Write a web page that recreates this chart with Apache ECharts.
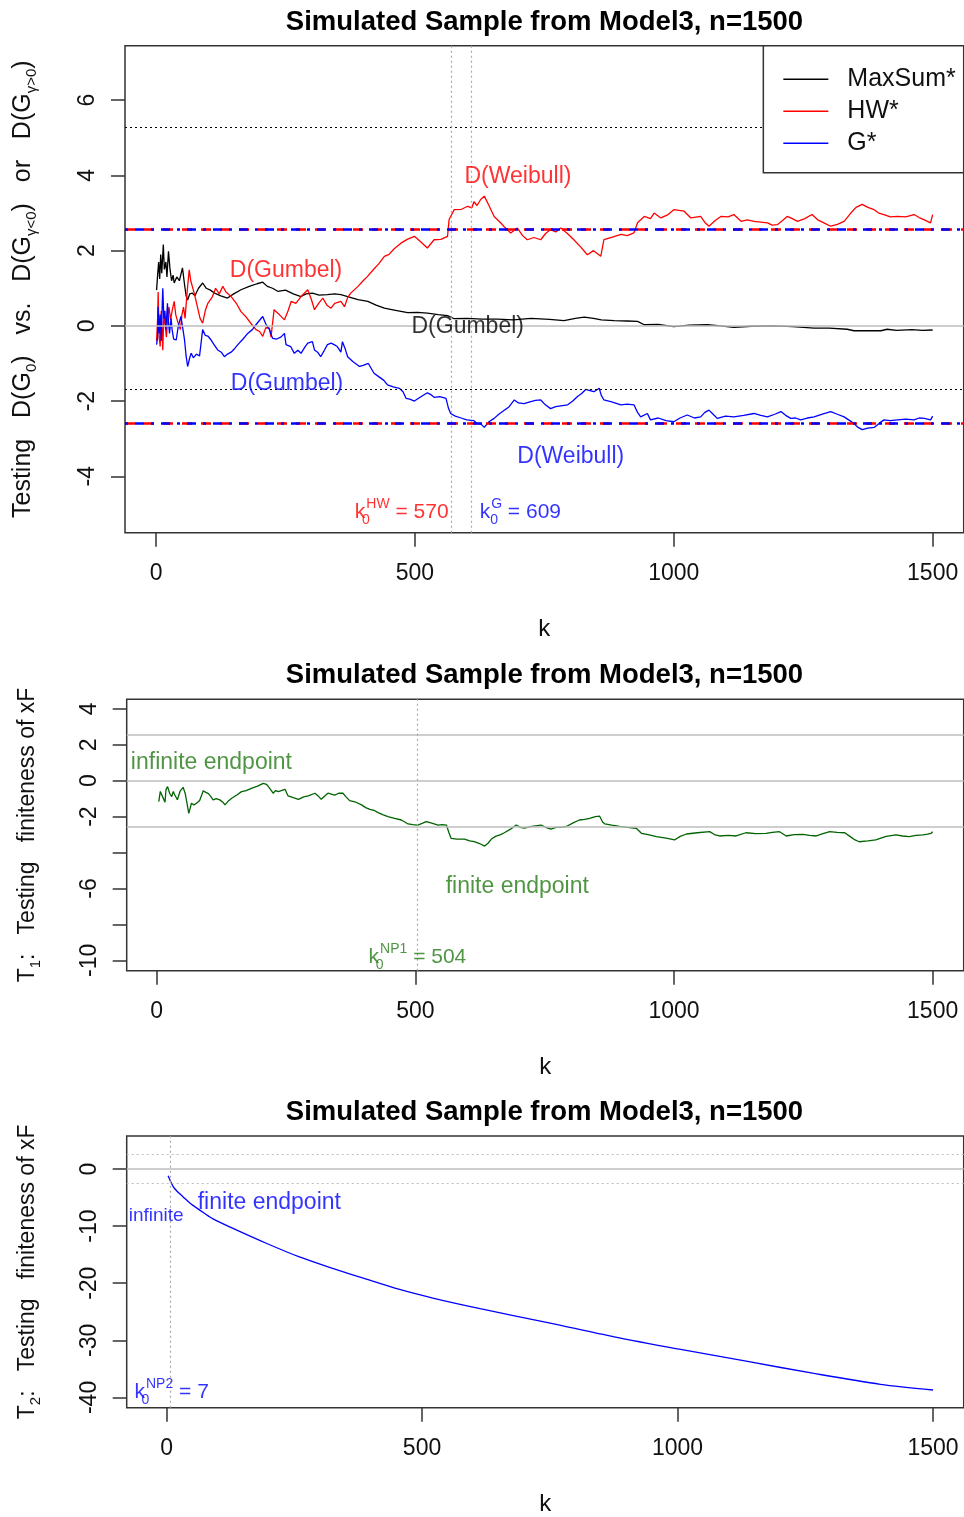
<!DOCTYPE html>
<html><head><meta charset="utf-8">
<script src="https://cdn.jsdelivr.net/npm/echarts@6/dist/echarts.min.js"></script>
<style>html,body{margin:0;padding:0;background:#fff}#c{width:964px;height:1517px}</style>
</head><body><div id="c"></div>
<script>
const FONT = '"Liberation Sans", Arial, Helvetica, sans-serif';
const TITLE = 'Simulated Sample from Model3, n=1500';
const xTicks = [0, 500, 1000, 1500];
const p1YTicks = [-4, -2, 0, 2, 4, 6];
const p2YTicks = [-10, -8, -6, -4, -2, 0, 2, 4];
const p2YLabels = [-10, -6, -2, 0, 2, 4];
const p3YTicks = [-40, -30, -20, -10, 0];
const legendNames = ['MaxSum*', 'HW*', 'G*'];

// reference levels
const zCrit = 2.576;
const maxSumUpper = 5.27, maxSumLower = -1.68;
const k0HW = 570, k0G = 609, k0NP1 = 504, k0NP2 = 7;

// [k, value]
const maxSumPts = [[1,0.95],[3,1.35],[5,1.7],[7,1.25],[9,1.9],[11,1.4],[14,2.16],[16,1.5],[19,1.7],[21,1.3],[24,1.98],[27,1.5],[30,1.2],[33,1.35],[35,1.14],[40,1.3],[45,1.2],[51,1.54],[55,1.1],[58,0.8],[61,0.69],[65,0.85],[70,0.87],[75,0.8],[82,1.0],[90,1.14],[97,1.0],[105,0.95],[113,0.87],[125,0.8],[138,0.74],[150,0.85],[164,0.96],[180,1.05],[195,1.12],[206,1.16],[215,1.05],[225,1.0],[235,0.92],[250,0.95],[265,0.85],[280,0.78],[290,0.85],[302,0.87],[315,0.82],[331,0.83],[345,0.85],[357,0.83],[370,0.78],[390,0.7],[409,0.65],[425,0.55],[441,0.47],[460,0.42],[486,0.35],[505,0.36],[524,0.34],[545,0.3],[563,0.27],[576,0.19],[600,0.2],[630,0.18],[660,0.18],[690,0.16],[724,0.2],[760,0.17],[788,0.14],[810,0.2],[827,0.23],[845,0.2],[860,0.16],[885,0.14],[910,0.13],[930,0.12],[943,0.03],[970,0.04],[1000,-0.02],[1030,0.02],[1065,0.03],[1090,0.0],[1116,-0.04],[1150,-0.01],[1194,0.0],[1230,-0.02],[1271,-0.06],[1300,-0.06],[1335,-0.09],[1348,-0.13],[1370,-0.13],[1400,-0.13],[1412,-0.09],[1430,-0.12],[1460,-0.1],[1480,-0.12],[1500,-0.11]];

const hwPts = [[1,-0.4],[3,0.2],[4,0.9],[6,-0.3],[8,-0.55],[10,0.4],[12,-0.2],[13,-0.65],[15,0.3],[17,0.1],[20,-0.3],[23,0.3],[25,0.5],[28,0.15],[31,0.4],[35,0.65],[38,0.3],[42,0.1],[47,-0.1],[50,0.3],[53,0.5],[56,0.2],[60,0.9],[64,1.49],[67,1.2],[70,1.05],[75,0.8],[80,0.5],[85,0.2],[90,0.07],[95,0.4],[100,0.6],[109,0.78],[115,1.0],[122,0.85],[129,1.05],[135,0.9],[145,0.78],[155,0.6],[164,0.38],[173,0.25],[183,0.07],[193,-0.1],[200,-0.15],[206,-0.28],[212,-0.05],[219,-0.06],[222,-0.3],[228,0.43],[238,0.3],[248,0.16],[255,0.4],[261,0.65],[270,0.6],[280,0.78],[293,0.96],[300,0.7],[306,0.43],[314,0.6],[322,0.74],[330,0.55],[338,0.47],[345,0.6],[357,0.65],[364,0.51],[370,0.75],[376,0.87],[390,1.05],[400,1.2],[408,1.31],[420,1.5],[430,1.65],[441,1.85],[450,1.9],[460,2.05],[473,2.2],[485,2.3],[499,2.38],[510,2.25],[524,2.07],[537,2.29],[550,2.3],[563,2.38],[566,2.83],[576,3.09],[590,3.1],[602,3.18],[610,3.14],[614,3.3],[620,3.2],[627,3.36],[634,3.45],[643,3.2],[653,2.91],[665,2.75],[675,2.6],[685,2.47],[698,2.6],[708,2.4],[717,2.29],[730,2.35],[743,2.29],[752,2.45],[762,2.56],[772,2.5],[782,2.6],[795,2.45],[807,2.29],[820,2.1],[833,1.89],[845,2.0],[859,1.85],[865,2.29],[880,2.35],[898,2.43],[910,2.4],[923,2.47],[930,2.74],[943,2.91],[955,2.85],[962,3.0],[975,2.87],[988,2.95],[1000,3.09],[1020,3.05],[1033,2.87],[1052,2.91],[1060,2.75],[1068,2.65],[1080,2.8],[1091,2.91],[1105,2.9],[1116,2.96],[1130,2.78],[1142,2.82],[1155,2.78],[1168,2.76],[1181,2.74],[1190,2.68],[1200,2.69],[1210,2.8],[1219,2.91],[1229,2.85],[1239,2.78],[1253,2.85],[1267,2.96],[1278,2.82],[1290,2.74],[1303,2.65],[1316,2.7],[1329,2.78],[1342,3.0],[1352,3.15],[1364,3.23],[1375,3.15],[1387,3.09],[1396,3.0],[1406,2.96],[1418,2.9],[1432,2.91],[1448,2.9],[1464,2.96],[1474,2.88],[1484,2.82],[1496,2.74],[1500,2.96]];

const gPts = [[1,-0.5],[3,-0.3],[4,0.5],[6,-0.2],[8,0.3],[10,-0.4],[12,0.6],[13,1.0],[15,0.2],[17,0.4],[19,-0.1],[22,0.6],[24,0.1],[26,-0.2],[29,0.2],[31,-0.1],[34,-0.35],[39,-0.37],[43,0.0],[48,0.25],[52,-0.1],[55,-0.37],[58,-0.8],[61,-1.08],[65,-0.85],[68,-0.73],[72,-0.85],[78,-0.75],[84,-0.8],[90,-0.1],[95,-0.25],[100,-0.27],[106,-0.37],[112,-0.5],[119,-0.64],[126,-0.7],[132,-0.82],[138,-0.75],[145,-0.7],[152,-0.6],[158,-0.5],[168,-0.35],[177,-0.2],[186,-0.1],[193,0.03],[200,0.15],[206,0.25],[212,0.05],[219,-0.1],[225,-0.33],[233,-0.35],[241,-0.3],[248,-0.2],[251,-0.5],[260,-0.55],[267,-0.73],[274,-0.65],[280,-0.73],[288,-0.55],[293,-0.46],[302,-0.42],[306,-0.64],[312,-0.7],[318,-0.82],[325,-0.65],[331,-0.5],[338,-0.46],[344,-0.5],[350,-0.55],[357,-0.7],[360,-0.42],[365,-0.6],[370,-0.82],[380,-0.95],[393,-1.08],[400,-1.05],[410,-1.0],[421,-1.26],[430,-1.35],[440,-1.45],[447,-1.57],[458,-1.62],[470,-1.66],[477,-1.75],[483,-1.93],[490,-1.95],[499,-2.0],[510,-1.9],[524,-1.78],[530,-1.82],[537,-1.9],[548,-1.88],[560,-1.93],[565,-2.2],[569,-2.33],[578,-2.4],[589,-2.45],[600,-2.5],[614,-2.52],[621,-2.6],[628,-2.62],[634,-2.7],[643,-2.55],[653,-2.46],[662,-2.35],[672,-2.25],[682,-2.15],[692,-1.97],[700,-2.05],[711,-2.07],[722,-2.02],[733,-1.98],[743,-1.97],[752,-2.1],[762,-2.2],[772,-2.15],[785,-2.12],[795,-2.1],[805,-2.0],[814,-1.88],[822,-1.8],[830,-1.69],[838,-1.72],[846,-1.75],[856,-1.66],[860,-1.85],[865,-1.97],[880,-2.02],[898,-2.1],[910,-2.08],[923,-2.1],[930,-2.3],[936,-2.42],[949,-2.33],[955,-2.5],[970,-2.45],[985,-2.52],[1000,-2.55],[1012,-2.45],[1026,-2.37],[1040,-2.45],[1052,-2.42],[1060,-2.3],[1068,-2.24],[1076,-2.35],[1084,-2.46],[1100,-2.4],[1116,-2.42],[1135,-2.38],[1155,-2.33],[1168,-2.38],[1181,-2.42],[1195,-2.35],[1207,-2.28],[1216,-2.38],[1226,-2.46],[1235,-2.45],[1245,-2.5],[1258,-2.45],[1271,-2.42],[1287,-2.35],[1303,-2.28],[1316,-2.35],[1329,-2.42],[1340,-2.52],[1348,-2.6],[1356,-2.7],[1364,-2.76],[1375,-2.72],[1387,-2.7],[1396,-2.6],[1406,-2.5],[1418,-2.52],[1432,-2.5],[1448,-2.48],[1464,-2.5],[1474,-2.45],[1484,-2.46],[1496,-2.5],[1500,-2.4]];

const t1Pts = [[4,-1.17],[7,-0.6],[10,-0.52],[13,-1.0],[16,-1.2],[18,-0.5],[21,-0.33],[25,-0.7],[29,-0.89],[32,-0.6],[35,-0.8],[40,-1.06],[45,-0.6],[51,-0.37],[55,-0.7],[58,-1.17],[62,-1.82],[65,-1.5],[67,-1.26],[72,-1.35],[77,-1.26],[83,-1.1],[87,-0.8],[90,-0.56],[95,-0.65],[100,-0.72],[105,-0.9],[109,-1.07],[115,-1.0],[122,-1.07],[128,-1.2],[132,-1.35],[138,-1.15],[145,-0.98],[155,-0.8],[164,-0.61],[173,-0.55],[183,-0.43],[195,-0.3],[206,-0.15],[212,-0.2],[216,-0.33],[225,-0.7],[230,-0.55],[235,-0.61],[248,-0.48],[254,-0.85],[264,-0.95],[274,-1.04],[284,-0.9],[293,-0.85],[306,-0.7],[312,-0.85],[318,-1.04],[325,-0.85],[331,-0.7],[344,-0.8],[352,-0.7],[360,-0.7],[366,-0.9],[373,-1.11],[385,-1.2],[396,-1.35],[404,-1.5],[412,-1.6],[420,-1.65],[428,-1.78],[438,-1.9],[447,-2.0],[460,-2.1],[473,-2.19],[486,-2.41],[495,-2.45],[505,-2.47],[513,-2.38],[521,-2.28],[530,-2.35],[544,-2.47],[552,-2.45],[560,-2.47],[565,-2.9],[569,-3.21],[580,-3.25],[595,-3.25],[605,-3.35],[614,-3.4],[624,-3.5],[634,-3.64],[640,-3.5],[647,-3.25],[655,-3.1],[665,-3.0],[672,-2.9],[684,-2.7],[695,-2.47],[703,-2.6],[711,-2.64],[725,-2.55],[743,-2.47],[752,-2.6],[762,-2.7],[772,-2.6],[782,-2.6],[792,-2.55],[805,-2.35],[817,-2.19],[827,-2.15],[837,-2.1],[848,-2.0],[856,-1.97],[862,-2.3],[866,-2.4],[880,-2.48],[895,-2.55],[910,-2.6],[927,-2.65],[937,-2.93],[950,-3.0],[966,-3.12],[985,-3.2],[1001,-3.3],[1012,-3.1],[1024,-2.97],[1045,-2.9],[1069,-2.84],[1078,-3.0],[1088,-3.08],[1105,-3.05],[1120,-3.08],[1139,-2.9],[1158,-2.95],[1178,-2.93],[1190,-2.88],[1204,-2.84],[1217,-3.08],[1232,-3.0],[1249,-2.99],[1262,-3.05],[1275,-3.08],[1288,-2.95],[1301,-2.84],[1315,-2.88],[1330,-2.9],[1340,-3.1],[1350,-3.3],[1358,-3.4],[1375,-3.35],[1390,-3.3],[1410,-3.1],[1429,-3.02],[1442,-3.08],[1455,-3.12],[1468,-3.05],[1481,-3.02],[1490,-2.98],[1497,-2.93],[1500,-2.84]];

const t2Pts = [[3,-1.2],[7,-2.0],[13,-3.1],[20,-3.85],[32,-4.85],[45,-5.9],[65,-7.2],[90,-8.7],[130,-10.4],[195,-13.0],[260,-15.4],[325,-17.4],[391,-19.3],[456,-21.1],[521,-22.6],[616,-24.5],[746,-26.9],[876,-29.4],[1006,-31.6],[1137,-33.7],[1267,-35.8],[1397,-37.7],[1500,-38.7]];

const RED = '#ff0000', BLUE = '#0000ff', GREEN = '#006400', GTEXT = '#237a14', GRAY = '#bebebe', VGRAY = '#a8a8a8';

const chart = echarts.init(document.getElementById('c'), null, {renderer: 'canvas'});

const gridBase = {show: true, borderColor: '#333', borderWidth: 1.5, backgroundColor: 'transparent', containLabel: false, outerBoundsMode: 'none'};
const grids = [
  Object.assign({left: 125, top: 45.7, width: 838.7, height: 487}, gridBase),
  Object.assign({left: 126.7, top: 699.3, width: 837, height: 271.4}, gridBase),
  Object.assign({left: 126.7, top: 1136, width: 837, height: 271.7}, gridBase)
];
const plain = (v) => String(v);

function xAx(gi, min, max) {
  return {
    type: 'value', gridIndex: gi, min: min, max: max,
    name: 'k', nameLocation: 'middle', nameGap: 85,
    nameTextStyle: {fontSize: 24, color: '#111', fontFamily: FONT},
    axisLine: {show: false, onZero: false}, splitLine: {show: false},
    axisTick: {show: true, inside: false, length: 14, customValues: xTicks, lineStyle: {color: '#333', width: 1.5}},
    axisLabel: {show: true, customValues: xTicks, formatter: plain, fontSize: 23, color: '#111', margin: 29, fontFamily: FONT}
  };
}
const subRich = {
  s: {fontSize: 15, verticalAlign: 'bottom', lineHeight: 15, fontFamily: FONT, color: '#111'}
};
function yAx(gi, min, max, ticks, labels, name, gap, nsize) {
  return {
    type: 'value', gridIndex: gi, min: min, max: max,
    name: name, nameLocation: 'middle', nameRotate: 90, nameGap: gap,
    nameTextStyle: {fontSize: nsize, color: '#111', fontFamily: FONT, lineHeight: 32, rich: subRich},
    axisLine: {show: false, onZero: false}, splitLine: {show: false},
    axisTick: {show: true, inside: false, length: 14, customValues: ticks, lineStyle: {color: '#333', width: 1.5}},
    axisLabel: {show: true, customValues: labels, formatter: plain, rotate: 90, fontSize: 23, color: '#111', margin: 26, fontFamily: FONT}
  };
}

const hLine = (y, color, type, width) => ({yAxis: y, lineStyle: {color: color, type: type, width: width}});
const vLine = (x, color, type, width) => ({xAxis: x, lineStyle: {color: color, type: type, width: width}});
function marks(items) {
  return {silent: true, symbol: ['none', 'none'], label: {show: false}, animation: false, data: items};
}
function lineSeries(name, xi, data, color, ml, extra) {
  return Object.assign({
    name: name, type: 'line', xAxisIndex: xi, yAxisIndex: xi, data: data,
    symbol: 'none', showSymbol: false, animation: false,
    lineStyle: {color: color, width: 1.3}, itemStyle: {color: color},
    markLine: ml
  }, extra || {});
}

const kRich = (c) => ({
  b: {fontSize: 21, lineHeight: 30, color: c, fontFamily: FONT},
  sub: {fontSize: 14, lineHeight: 14, verticalAlign: 'bottom', color: c, fontFamily: FONT, width: 1, align: 'left'},
  sup: {fontSize: 14, lineHeight: 14, verticalAlign: 'top', color: c, fontFamily: FONT}
});
function ann(k, y, text, color, align, size, rich) {
  return {value: [k, y], label: {formatter: text, color: color, align: align || 'center', verticalAlign: 'middle', fontSize: size || 23, fontFamily: FONT, rich: rich}};
}
function annSeries(xi, items) {
  return {type: 'scatter', xAxisIndex: xi, yAxisIndex: xi, symbolSize: 0, silent: true, animation: false,
    itemStyle: {color: 'transparent'}, z: 10,
    label: {show: true, position: 'inside'}, data: items};
}
const titleStyle = {fontSize: 27.5, fontWeight: 'bold', color: '#000', fontFamily: FONT};

const option = {
  animation: false,
  backgroundColor: '#fff',
  textStyle: {fontFamily: FONT},
  title: [
    {text: TITLE, left: 544.5, textAlign: 'center', top: 8, padding: 0, textStyle: titleStyle},
    {text: TITLE, left: 544.5, textAlign: 'center', top: 661, padding: 0, textStyle: titleStyle},
    {text: TITLE, left: 544.5, textAlign: 'center', top: 1098.5, padding: 0, textStyle: titleStyle}
  ],
  legend: {
    data: legendNames.map(n => ({name: n, icon: 'rect'})), orient: 'vertical', right: 0.3, top: 45.7,
    z: 30, zlevel: 0,
    backgroundColor: '#fff', borderColor: '#333', borderWidth: 1.5, borderRadius: 0,
    padding: [21, 8, 17, 20], itemGap: 7, itemWidth: 45, itemHeight: 1.5,
    textStyle: {fontSize: 25, color: '#111', fontFamily: FONT, padding: [0, 0, 0, 14], lineHeight: 24},
    selectedMode: false
  },
  grid: grids,
  xAxis: [xAx(0, -60, 1560), xAx(1, -58, 1560), xAx(2, -78, 1560)],
  yAxis: [
    yAx(0, -5.5, 7.45, p1YTicks, p1YTicks, 'Testing   D(G{s|0})   vs.   D(G{s|γ<0})   or   D(G{s|γ>0})', 86, 25),
    yAx(1, -10.58, 4.53, p2YTicks, p2YLabels, 'T{s|1}:   Testing   finiteness of xF', 83, 23),
    yAx(2, -41.8, 5.78, p3YTicks, p3YTicks, 'T{s|2}:   Testing   finiteness of xF', 83, 23)
  ],
  series: [
    lineSeries('MaxSum*', 0, maxSumPts, '#000', marks([
      hLine(0, GRAY, 'solid', 1.5),
      hLine(maxSumUpper, '#000', [2, 3], 1.2),
      hLine(maxSumLower, '#000', [2, 3], 1.2),
      vLine(k0HW, VGRAY, [2, 3], 1.2),
      vLine(k0G, VGRAY, [2, 3], 1.2)
    ])),
    lineSeries('HW*', 0, hwPts, RED, marks([
      hLine(zCrit, RED, [10, 9], 2.6),
      hLine(-zCrit, RED, [10, 9], 2.6)
    ])),
    lineSeries('G*', 0, gPts, BLUE, marks([
      hLine(zCrit, BLUE, [3, 7, 9, 7], 2.6),
      hLine(-zCrit, BLUE, [3, 7, 9, 7], 2.6)
    ])),
    annSeries(0, [
      ann(699, 3.97, 'D(Weibull)', RED),
      ann(251, 1.47, 'D(Gumbel)', RED),
      ann(602, -0.03, 'D(Gumbel)', '#000'),
      ann(253, -1.55, 'D(Gumbel)', BLUE),
      ann(801, -3.49, 'D(Weibull)', BLUE),
      ann(565, -4.96, '{b|k}{sub|0}{sup|HW}{b| = 570}', RED, 'right', 21, kRich(RED)),
      ann(625, -4.96, '{b|k}{sub|0}{sup|G}{b| = 609}', BLUE, 'left', 21, kRich(BLUE))
    ]),
    lineSeries('T1', 1, t1Pts, GREEN, marks([
      hLine(0, GRAY, 'solid', 1.5),
      hLine(zCrit, GRAY, 'solid', 1.5),
      hLine(-zCrit, GRAY, 'solid', 1.5),
      vLine(k0NP1, VGRAY, [2, 3], 1.2)
    ])),
    annSeries(1, [
      ann(-50, 0.99, 'infinite endpoint', GTEXT, 'left', 23),
      ann(697, -5.92, 'finite endpoint', GTEXT, 'center', 23),
      ann(504, -9.82, '{b|k}{sub|0}{sup|NP1}{b| = 504}', GTEXT, 'center', 21, kRich(GTEXT))
    ]),
    lineSeries('T2', 2, t2Pts, BLUE, marks([
      hLine(0, GRAY, 'solid', 1.5),
      hLine(zCrit, GRAY, [2, 3], 1.2),
      hLine(-zCrit, GRAY, [2, 3], 1.2),
      vLine(k0NP2, VGRAY, [2, 3], 1.2)
    ]), {smooth: 0.3}),
    annSeries(2, [
      ann(61, -5.95, 'finite endpoint', BLUE, 'left', 23),
      ann(-74, -8.2, 'infinite', BLUE, 'left', 19),
      ann(10, -39, '{b|k}{sub|0}{sup|NP2}{b| = 7}', BLUE, 'center', 21, kRich(BLUE))
    ])
  ]
};
chart.setOption(option);
</script>
</body></html>
